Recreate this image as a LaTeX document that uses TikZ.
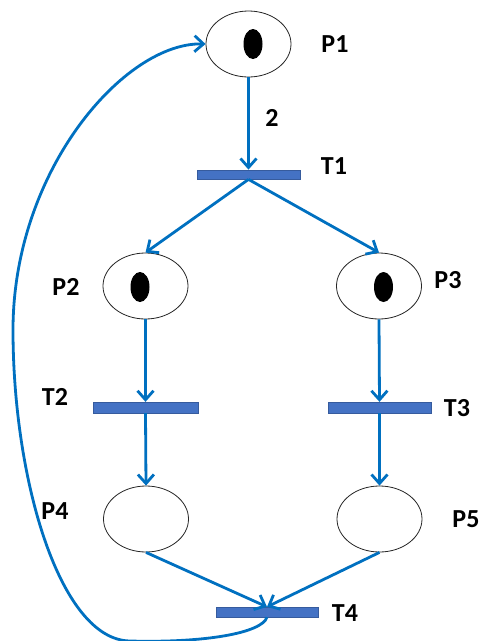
\documentclass[tikz,border=0pt]{standalone}
\usepackage{fontspec}
\setmainfont{Carlito}
\usetikzlibrary{arrows.meta,shapes.geometric}
\definecolor{arcblue}{HTML}{0070C0}
\definecolor{barblue}{HTML}{4472C4}
\begin{document}
\begin{tikzpicture}[x=1pt,y=-1pt,
  place/.style={draw=black!85, line width=0.8pt, fill=white, ellipse,
                minimum width=85pt, minimum height=66pt, inner sep=0pt},
  token/.style={fill=black, ellipse, minimum width=19pt, minimum height=30pt, inner sep=0pt},
  trans/.style={fill=barblue, draw=barblue!80!black, line width=0.3pt,
                minimum width=103pt, minimum height=9.5pt, inner sep=0pt},
  lbl/.style={font=\fontsize{26}{26}\selectfont\bfseries, inner sep=0pt},
  arc/.style={draw=arcblue, line width=2.8pt,
              -{Straight Barb[length=9pt,width=16pt,line width=2.8pt]}}]
\useasboundingbox (0,0) rectangle (480,641);

% places
\node[place] (P1) at (248.5,44) {};
\node[place] (P2) at (145.5,286) {};
\node[place] (P3) at (379,286) {};
\node[place] (P4) at (146,519) {};
\node[place] (P5) at (379.5,519) {};

% tokens
\node[token] (k1) at (253,44) {};
\node[token] (k2) at (140,287) {};
\node[token] (k3) at (383.5,287) {};

% transitions
\node[trans] (T1) at (248.5,174.5) {};
\node[trans, minimum width=105pt, minimum height=11pt] (T2) at (145.5,407.5) {};
\node[trans, minimum height=11pt] (T3) at (379.5,407.5) {};
\node[trans, minimum width=102pt, minimum height=10pt] (T4) at (267,612) {};

% labels
\node[lbl] (lP1) at (335,44) {P1};
\node[lbl] (lw) at (272,118) {2};
\node[lbl] (lT1) at (334,166) {T1};
\node[lbl] (lP2) at (66,287) {P2};
\node[lbl] (lP3) at (448,280) {P3};
\node[lbl] (lT2) at (55,397) {T2};
\node[lbl] (lT3) at (457,408) {T3};
\node[lbl] (lP4) at (55,511) {P4};
\node[lbl] (lP5) at (466,519) {P5};
\node[lbl] (lT4) at (345,613) {T4};

% arcs
\draw[arc] (P1.south) -- (T1.north);
\draw[arc] (T1.south) -- (P2.north);
\draw[arc] (T1.south) -- (P3.north);
\draw[arc] (P2.south) -- (T2.north);
\draw[arc] (P3.south) -- (T3.north);
\draw[arc] (T2.south) -- (P4.north);
\draw[arc] (T3.south) -- (P5.north);
\draw[arc] (P4.south) -- (T4.north);
\draw[arc] (P5.south) -- (T4.north);

% return arc from T4 back to P1
\draw[arc] (T4.south) .. controls (262,633) and (205,643) .. (130,641)
           .. controls (60,640) and (13,480) .. (13,330)
           .. controls (13,170) and (125,42) .. (P1.west);
\end{tikzpicture}
\end{document}
